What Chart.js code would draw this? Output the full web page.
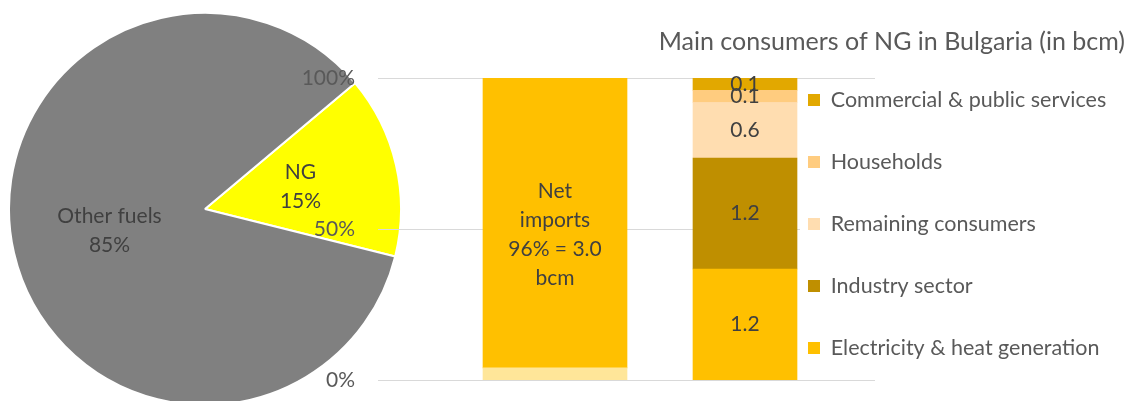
<!DOCTYPE html>
<html>
<head>
<meta charset="utf-8">
<script src="https://cdn.jsdelivr.net/npm/chart.js@4"></script>
<style>
html, body { margin: 0; padding: 0; width: 1133px; height: 401px; overflow: hidden; background: #ffffff; }
#pieBox { position: absolute; left: 8px; top: 12px; width: 394px; height: 394px; }
#barBox { position: absolute; left: 0; top: 0; width: 1133px; height: 401px; }
</style>
</head>
<body>
<div id="pieBox"><canvas id="pie"></canvas></div>
<div id="barBox"><canvas id="bar"></canvas></div>
<script>
// ---------- data ----------
const pieLabels = ['NG', 'Other fuels'];
const pieShares = [15, 85];
const pieColors = ['#FFFF00', '#808080'];

const columns = ['Supply', 'Consumption'];

const supplySeries = ['Domestic production', 'Net imports'];
const supplyShares = [4, 96];
const supplyColors = ['#FFE699', '#FFC000'];
const netImportsBcm = 3.0;

const consumers = ['Electricity & heat generation', 'Industry sector', 'Remaining consumers', 'Households', 'Commercial & public services'];
const consumerBcm = [1.18, 1.18, 0.59, 0.13, 0.13];
const consumerColors = ['#FFC000', '#BF8F00', '#FFDDB0', '#FFCC7F', '#E2A800'];

const shareTicks = [0, 50, 100];
const chartTitle = 'Main consumers of NG in Bulgaria (in bcm)';

// ---------- styles ----------
const FONT = 'Lato, "Open Sans", "Liberation Sans", sans-serif';
const TEXT_GREY = '#595959';
const LABEL_DARK = '#404040';
const LABEL_SIZE = 21;
const LINE_GAP = 29;
const LEGEND_SIZE = 21.5;
const TITLE_SIZE = 25;

const totalBcm = consumerBcm.reduce((a, b) => a + b, 0);

Chart.defaults.font.family = FONT;

// ---------- pie ----------
const pieLabelPlugin = {
  id: 'pieLabels',
  afterDatasetsDraw(chart) {
    const ctx = chart.ctx;
    const meta = chart.getDatasetMeta(0);
    ctx.save();
    ctx.font = LABEL_SIZE + 'px ' + FONT;
    ctx.fillStyle = LABEL_DARK;
    ctx.textAlign = 'center';
    ctx.textBaseline = 'middle';
    meta.data.forEach((arc, i) => {
      const p = arc.tooltipPosition();
      const lines = [pieLabels[i], pieShares[i] + '%'];
      const y0 = p.y - (lines.length - 1) * LINE_GAP / 2;
      lines.forEach((t, k) => ctx.fillText(t, p.x, y0 + k * LINE_GAP));
    });
    ctx.restore();
  }
};

new Chart(document.getElementById('pie'), {
  type: 'pie',
  data: {
    labels: pieLabels,
    datasets: [{ data: pieShares, backgroundColor: pieColors, borderColor: '#ffffff', borderWidth: 2 }]
  },
  options: {
    responsive: true, maintainAspectRatio: false, animation: false, devicePixelRatio: 1,
    rotation: 50,
    layout: { padding: 0 },
    plugins: { legend: { display: false }, tooltip: { enabled: false }, title: { display: false } }
  },
  plugins: [pieLabelPlugin]
});

// ---------- bars ----------
const GRID_X0 = 378, GRID_X1 = 875, GRID_MID_X1 = 800;
const LEGEND_BOX_X = 808, LEGEND_FIRST_Y = 100;

const gridPlugin = {
  id: 'wideGrid',
  beforeDatasetsDraw(chart) {
    const ctx = chart.ctx, ys = chart.scales.y;
    ctx.save();
    ctx.strokeStyle = '#D9D9D9';
    ctx.lineWidth = 1;
    ys.ticks.forEach(t => {
      const py = Math.round(ys.getPixelForValue(t.value)) + 0.5;
      const inner = t.value > ys.min && t.value < ys.max;
      ctx.beginPath(); ctx.moveTo(GRID_X0, py); ctx.lineTo(inner ? GRID_MID_X1 : GRID_X1, py); ctx.stroke();
    });
    ctx.restore();
  }
};

const legendPlace = {
  id: 'legendPlace',
  afterLayout(chart) {
    const lg = chart.legend;
    if (!lg) return;
    const pad = lg.options.labels.padding;
    const fs = lg.options.labels.font.size;
    lg.left = LEGEND_BOX_X - pad;
    lg.right = chart.width;
    lg.width = lg.right - lg.left;
    lg.top = LEGEND_FIRST_Y - fs / 2 - pad;
    lg.bottom = chart.height + 100;
    lg.height = lg.bottom - lg.top;
  }
};

const barLabelPlugin = {
  id: 'barLabels',
  afterDatasetsDraw(chart) {
    const ctx = chart.ctx;
    ctx.save();
    ctx.font = LABEL_SIZE + 'px ' + FONT;
    ctx.fillStyle = LABEL_DARK;
    ctx.textAlign = 'center';
    ctx.textBaseline = 'middle';
    chart.data.datasets.forEach((ds, di) => {
      if (!ds.labelLines) return;
      const meta = chart.getDatasetMeta(di);
      meta.data.forEach((bar, i) => {
        const v = ds.data[i];
        if (v === null || v === undefined) return;
        const lines = ds.labelLines(v);
        if (!lines.length) return;
        const p = bar.getProps(['x', 'y', 'base'], true);
        const cy = (p.y + p.base) / 2 + (lines.length > 1 ? 12 : 0);
        const y0 = cy - (lines.length - 1) * LINE_GAP / 2;
        lines.forEach((t, k) => ctx.fillText(t, p.x, y0 + k * LINE_GAP));
      });
    });
    ctx.restore();
  }
};

const supplyDatasets = supplySeries.map((name, i) => ({
  label: name,
  data: columns.map((c, ci) => ci === 0 ? supplyShares[i] : null),
  backgroundColor: supplyColors[i],
  borderWidth: 0,
  yAxisID: 'y',
  barThickness: 144,
  labelLines: i === 1 ? (v => ['Net', 'imports', v + '% = ' + netImportsBcm.toFixed(1), 'bcm']) : (() => [])
}));

const consumerDatasets = consumers.map((name, i) => ({
  label: name,
  data: columns.map((c, ci) => ci === 1 ? consumerBcm[i] : null),
  backgroundColor: consumerColors[i],
  borderWidth: 0,
  yAxisID: 'y2',
  barThickness: 104,
  labelLines: v => [v.toFixed(1)]
}));

new Chart(document.getElementById('bar'), {
  type: 'bar',
  data: { labels: columns, datasets: supplyDatasets.concat(consumerDatasets) },
  options: {
    responsive: true, maintainAspectRatio: false, animation: false, devicePixelRatio: 1,
    layout: { padding: { left: 0, right: 8, top: 0, bottom: 21 } },
    scales: {
      x: { type: 'category', stacked: true, display: false },
      y: {
        stacked: true, min: 0, max: 100, position: 'left',
        afterBuildTicks: s => { s.ticks = shareTicks.map(v => ({ value: v })); },
        afterFit: s => { s.width = 460; s.paddingTop = 12; s.paddingBottom = 12; },
        grid: { display: false, drawTicks: false },
        border: { display: false },
        ticks: { padding: 105, color: TEXT_GREY, font: { family: FONT, size: 21 }, callback: v => v + '%' }
      },
      y2: { stacked: true, min: 0, max: totalBcm, display: false }
    },
    plugins: {
      title: {
        display: true, text: chartTitle, align: 'end', color: TEXT_GREY,
        font: { family: FONT, size: TITLE_SIZE, weight: 'normal' },
        padding: { top: 27, bottom: 21 }
      },
      legend: {
        position: 'right', align: 'start', reverse: true, maxWidth: 285,
        labels: {
          filter: item => consumers.includes(item.text),
          boxWidth: 12, boxHeight: 12, padding: 62 - LEGEND_SIZE,
          color: TEXT_GREY, font: { family: FONT, size: LEGEND_SIZE }
        }
      },
      tooltip: { enabled: false }
    }
  },
  plugins: [gridPlugin, legendPlace, barLabelPlugin]
});
</script>
</body>
</html>
